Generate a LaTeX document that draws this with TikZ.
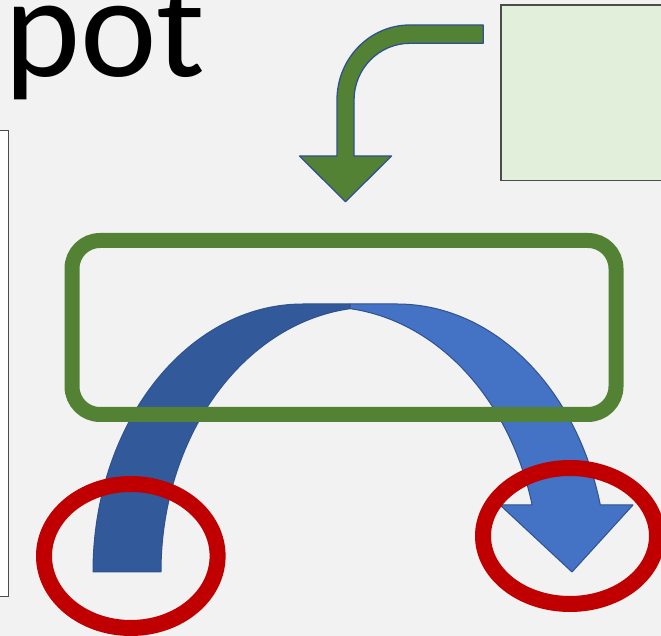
\documentclass[tikz,border=0pt]{standalone}
\usepackage{fontspec}
\setmainfont{Carlito}
\usetikzlibrary{shapes.geometric}
\definecolor{slidegray}{RGB}{242,242,242}
\definecolor{leafgreen}{RGB}{84,130,53}
\definecolor{palegreen}{RGB}{226,239,218}
\definecolor{accentblue}{RGB}{68,114,196}
\definecolor{shadeblue}{RGB}{50,89,153}
\definecolor{edgeblue}{RGB}{47,82,143}
\definecolor{alertred}{RGB}{192,0,0}
\tikzstyle{panel} = [rectangle, draw=black!70, line width=1.5pt, inner sep=0pt, outer sep=0pt]
\tikzstyle{hotbox} = [rectangle, rounded corners=28pt, draw=leafgreen, line width=15pt, inner sep=0pt, outer sep=0pt]
\tikzstyle{ring} = [ellipse, draw=alertred, line width=16pt, inner sep=0pt, outer sep=0pt]
\tikzstyle{band} = [draw=edgeblue, line width=1pt, line join=round]
\tikzstyle{feed} = [fill=leafgreen, draw=edgeblue, line width=1.3pt, line join=round]

\begin{document}
\begin{tikzpicture}[x=1pt, y=1pt]
\useasboundingbox (0,0) rectangle (661,636);
\clip (0,0) rectangle (661,636);
\fill [slidegray] (0,0) rectangle (661,636);

% panels at the edges
\node (sidepanel) [panel, fill=white, minimum width=40pt, minimum height=466pt] at (-11.6,272.3) {};
\node (notepanel) [panel, fill=palegreen, minimum width=189pt, minimum height=175.7pt] at (595.5,543.15) {};

\node (title) [anchor=base west, inner sep=0pt, font=\fontsize{145}{150}\selectfont] at (4,559) {pot};

% bent arrow into the box
\draw [feed] (483.3,611) -- (410,611) arc[start angle=90, end angle=180, x radius=73pt, y radius=75pt]
  -- (337,480) -- (299.5,480) -- (345.5,434.3) -- (391.5,480) -- (354,480) -- (354,536)
  arc[start angle=180, end angle=90, x radius=56pt, y radius=56.7pt] -- (483.3,592.7) -- cycle;

% curved arrow, back and front
\draw [band, fill=shadeblue] (93,64) arc[start angle=180, end angle=90, x radius=210pt, y radius=268pt]
  -- (350,332) -- (350,327.3) arc[start angle=96.47, end angle=180, x radius=213pt, y radius=265pt] -- cycle;
\draw [band, fill=accentblue] (350,327.3) -- (350,332) -- (397,332)
  arc[start angle=90, end angle=14.48, x radius=210pt, y radius=268pt]
  -- (633,131) -- (572,64) -- (500,131) -- (532.1,131)
  arc[start angle=14.64, end angle=83.53, x radius=213pt, y radius=265pt] -- cycle;

\node (hotframe) [hotbox, minimum width=544pt, minimum height=174pt] at (344,308.5) {};

\node (startring) [ring, minimum width=173.6pt, minimum height=144pt] at (130.8,80) {};
\node (endring) [ring, minimum width=174pt, minimum height=136pt] at (570,100) {};

\end{tikzpicture}
\end{document}
